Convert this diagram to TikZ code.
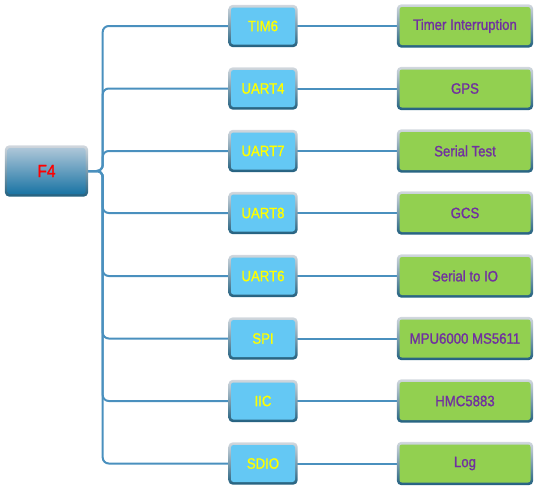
\documentclass[tikz,border=0pt]{standalone}
\usepackage{fontspec}
\setmainfont{Liberation Sans}
\newfontfamily\boxfont{Liberation Sans}[FakeStretch=0.88, FakeBold=1.2]
\usetikzlibrary{backgrounds}
\pgfdeclarelayer{lines}
\pgfsetlayers{lines,background,main}
\definecolor{linec}{HTML}{4A90BE}
\definecolor{midfill}{HTML}{64C8F4}
\definecolor{rightfill}{HTML}{92D050}
\definecolor{purpletxt}{HTML}{7030A0}
\definecolor{yellowtxt}{HTML}{FFFF00}
\definecolor{frametop}{HTML}{D2D8DE}
\definecolor{framemid}{HTML}{A9B9C6}
\definecolor{framebot}{HTML}{22607F}
\definecolor{rootop}{HTML}{ADC6D8}
\definecolor{rootbot}{HTML}{1A74A4}
\tikzset{
  midbox/.style={rectangle, rounded corners=2.5pt, fill=midfill, minimum width=64pt, minimum height=37pt, inner sep=0pt, text=yellowtxt, font=\boxfont\fontsize{15}{17}\selectfont},
  rightbox/.style={rectangle, rounded corners=2.5pt, fill=rightfill, minimum width=131pt, minimum height=38pt, inner sep=0pt, text=purpletxt, font=\boxfont\fontsize{15}{17}\selectfont},
  rootbox/.style={rectangle, rounded corners=2.5pt, top color=rootop, bottom color=rootbot, minimum width=78pt, minimum height=46pt, inner sep=0pt, text=red, font=\boxfont\fontsize{17.5}{19}\selectfont},
  conn/.style={draw=linec, line width=2pt, rounded corners=6pt},
  frame/.style={rounded corners=4.5pt, top color=frametop, middle color=framemid, bottom color=framebot}
}
\begin{document}
\begin{tikzpicture}[x=1pt,y=-1pt]
\useasboundingbox (0,0) rectangle (538,490);
\node[rootbox] (F4) at (46.5,171) {F4};
\foreach \i/\y/\m/\r in {1/26/TIM6/Timer Interruption,2/88.5/UART4/GPS,3/151/UART7/Serial Test,4/213/UART8/GCS,5/276/UART6/Serial to IO,6/338.5/SPI/MPU6000 MS5611,7/401/IIC/HMC5883,8/463.5/SDIO/Log}{
  \node[midbox] (m\i) at (263,\y) {\m};
  \node[rightbox] (r\i) at (465,\y) {\r};
  \begin{pgfonlayer}{lines}
    \draw[conn] (F4.east) -- ++(17,0) |- (m\i.west);
    \draw[conn] (m\i.east) -- (r\i.west);
  \end{pgfonlayer}
  \begin{pgfonlayer}{background}
    \shade[frame] ([shift={(-2.5,-2.5)}]m\i.north west) rectangle ([shift={(2.5,2.5)}]m\i.south east);
    \shade[frame] ([shift={(-2.5,-2.5)}]r\i.north west) rectangle ([shift={(2.5,2.5)}]r\i.south east);
  \end{pgfonlayer}
}
\begin{pgfonlayer}{background}
  \shade[frame] ([shift={(-2.5,-2.5)}]F4.north west) rectangle ([shift={(2.5,2.5)}]F4.south east);
\end{pgfonlayer}
\end{tikzpicture}
\end{document}
